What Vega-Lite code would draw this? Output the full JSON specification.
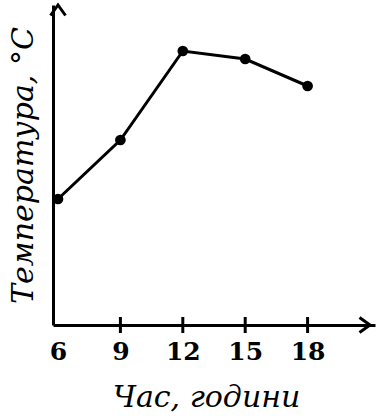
{
  "$schema": "https://vega.github.io/schema/vega-lite/v6.json",
  "autosize": "none",
  "width": 322,
  "height": 320,
  "padding": {"left": 53, "top": 5, "right": 3, "bottom": 94},
  "background": "white",
  "config": {"view": {"stroke": null}},
  "datasets": {
    "temps": [
      {"hour": 6, "temp": 12.6},
      {"hour": 9, "temp": 18.5},
      {"hour": 12, "temp": 27.4},
      {"hour": 15, "temp": 26.6},
      {"hour": 18, "temp": 23.9}
    ],
    "arrows": [
      {"hour": 21, "temp": 0, "dir": "right"},
      {"hour": 6, "temp": 32, "dir": "up"}
    ],
    "tickbars": [
      {"hour": 9, "lo": -0.8, "hi": 0.8},
      {"hour": 12, "lo": -0.8, "hi": 0.8},
      {"hour": 15, "lo": -0.8, "hi": 0.8},
      {"hour": 18, "lo": -0.8, "hi": 0.8}
    ]
  },
  "layer": [
    {
      "data": {"name": "temps"},
      "mark": {"type": "line", "color": "black", "strokeWidth": 3, "clip": false},
      "encoding": {
        "x": {
          "field": "hour", "type": "quantitative",
          "scale": {"domain": [6, 21], "nice": false, "zero": false},
          "axis": {
            "values": [6, 9, 12, 15, 18],
            "grid": false,
            "ticks": false,
            "domainColor": "black",
            "domainWidth": 3,
            "labelFont": "DejaVu Serif",
            "labelFontWeight": "bold",
            "labelFontSize": 25,
            "labelColor": "black",
            "labelPadding": 14,
            "labelFlush": false,
            "title": "Час, години",
            "titleFont": "DejaVu Serif",
            "titleFontStyle": "italic",
            "titleFontWeight": "normal",
            "titleFontSize": 30,
            "titleColor": "black",
            "titlePadding": 18,
            "titleX": 153
          }
        },
        "y": {
          "field": "temp", "type": "quantitative",
          "scale": {"domain": [0, 32], "nice": false, "zero": false},
          "axis": {
            "grid": false,
            "ticks": false,
            "labels": false,
            "domainColor": "black",
            "domainWidth": 3,
            "title": "Температура, °C",
            "titleFont": "DejaVu Serif",
            "titleFontStyle": "italic",
            "titleFontWeight": "normal",
            "titleFontSize": 30,
            "titleColor": "black",
            "titlePadding": 15
          }
        }
      }
    },
    {
      "data": {"name": "temps"},
      "mark": {"type": "point", "filled": true, "color": "black", "size": 115, "opacity": 1, "clip": false},
      "encoding": {
        "x": {"field": "hour", "type": "quantitative"},
        "y": {"field": "temp", "type": "quantitative"}
      }
    },
    {
      "data": {"name": "tickbars"},
      "mark": {"type": "bar", "color": "black", "width": 3, "opacity": 1, "clip": false},
      "encoding": {
        "x": {"field": "hour", "type": "quantitative"},
        "y": {"field": "lo", "type": "quantitative"},
        "y2": {"field": "hi"}
      }
    },
    {
      "data": {"name": "arrows"},
      "mark": {"type": "point", "filled": false, "color": "black", "strokeWidth": 3, "size": 225, "opacity": 1, "clip": false},
      "encoding": {
        "x": {"field": "hour", "type": "quantitative"},
        "y": {"field": "temp", "type": "quantitative"},
        "shape": {
          "field": "dir", "type": "nominal",
          "scale": {"domain": ["right", "up"], "range": ["M-1.4,-1L0,0L-1.4,1", "M-1,1.4L0,0L1,1.4"]},
          "legend": null
        }
      }
    }
  ]
}
